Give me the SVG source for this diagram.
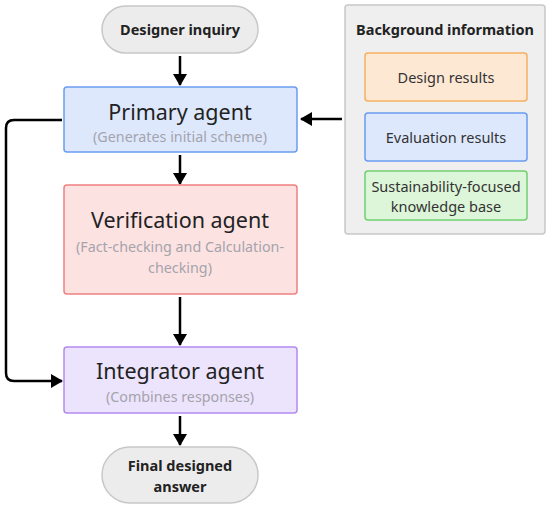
<svg xmlns="http://www.w3.org/2000/svg" width="550" height="508" viewBox="0 0 550 508">
<defs>
<marker id="ah" viewBox="0 0 12 14" refX="11" refY="7" markerWidth="12" markerHeight="14" markerUnits="userSpaceOnUse" orient="auto"><path d="M0,0 L12,7 L0,14 z" fill="#000"/></marker>
<style>
.t{font-family:"Noto Sans","Open Sans",sans-serif;}
.pill{fill:#ececec;stroke:#c8c8c8;stroke-width:1.5}
.bold{font-weight:bold;font-size:14.5px;fill:#222}
.title{font-size:21.5px;fill:#222}
.sub{font-size:14.3px;fill:#a4a4ac}
.item{font-size:14.5px;fill:#333}
.conn{fill:none;stroke:#000;stroke-width:2.5;marker-end:url(#ah)}
</style>
</defs>
<rect width="550" height="508" fill="#fff"/>
<g id="connectors">
<path class="conn" d="M180,56 V85"/>
<path class="conn" d="M180,155 V184"/>
<path class="conn" d="M180,297 V345"/>
<path class="conn" d="M180,416 V445"/>
<path class="conn" d="M342,119 H301"/>
<path class="conn" d="M62,120 H14 Q6,120 6,128 V373 Q6,381 14,381 H62"/>
</g>
<g id="designer-inquiry">
<rect class="pill" x="102" y="6" width="156" height="47" rx="23.5"/>
<text class="t bold" x="180" y="35" text-anchor="middle">Designer inquiry</text>
</g>
<g id="primary-agent">
<rect x="64" y="87" width="233" height="65" rx="3" fill="#dde8fc" stroke="#6b9cf0" stroke-width="1.5"/>
<text class="t title" x="180" y="120" text-anchor="middle">Primary agent</text>
<text class="t sub" x="180" y="142" text-anchor="middle">(Generates initial scheme)</text>
</g>
<g id="verification-agent">
<rect x="64" y="185" width="233" height="109" rx="3" fill="#fde2e2" stroke="#f08080" stroke-width="1.5"/>
<text class="t title" x="180" y="228" text-anchor="middle">Verification agent</text>
<text class="t sub" x="180" y="252" text-anchor="middle">(Fact-checking and Calculation-</text>
<text class="t sub" x="180" y="273" text-anchor="middle">checking)</text>
</g>
<g id="integrator-agent">
<rect x="64" y="347" width="233" height="66" rx="3" fill="#ece3fc" stroke="#b58af0" stroke-width="1.5"/>
<text class="t title" x="180" y="379" text-anchor="middle">Integrator agent</text>
<text class="t sub" x="180" y="402" text-anchor="middle">(Combines responses)</text>
</g>
<g id="final-answer">
<rect class="pill" x="102" y="447" width="156" height="56" rx="28"/>
<text class="t bold" x="180" y="471" text-anchor="middle">Final designed</text>
<text class="t bold" x="180" y="492" text-anchor="middle">answer</text>
</g>
<g id="background-information">
<rect x="345" y="5" width="200" height="229" rx="3" fill="#efefef" stroke="#c8c8c8" stroke-width="1.5"/>
<text class="t bold" x="445" y="35" text-anchor="middle">Background information</text>
</g>
<g id="design-results">
<rect x="365" y="53" width="162" height="48" rx="3" fill="#fde8d3" stroke="#f5b060" stroke-width="1.5"/>
<text class="t item" x="446" y="83" text-anchor="middle">Design results</text>
</g>
<g id="evaluation-results">
<rect x="365" y="113" width="162" height="48" rx="3" fill="#dde8fc" stroke="#6b9cf0" stroke-width="1.5"/>
<text class="t item" x="446" y="143" text-anchor="middle">Evaluation results</text>
</g>
<g id="knowledge-base">
<rect x="365" y="171" width="162" height="49" rx="3" fill="#ddf5d8" stroke="#70d070" stroke-width="1.5"/>
<text class="t item" x="446" y="192" text-anchor="middle">Sustainability-focused</text>
<text class="t item" x="446" y="212" text-anchor="middle">knowledge base</text>
</g>
</svg>
